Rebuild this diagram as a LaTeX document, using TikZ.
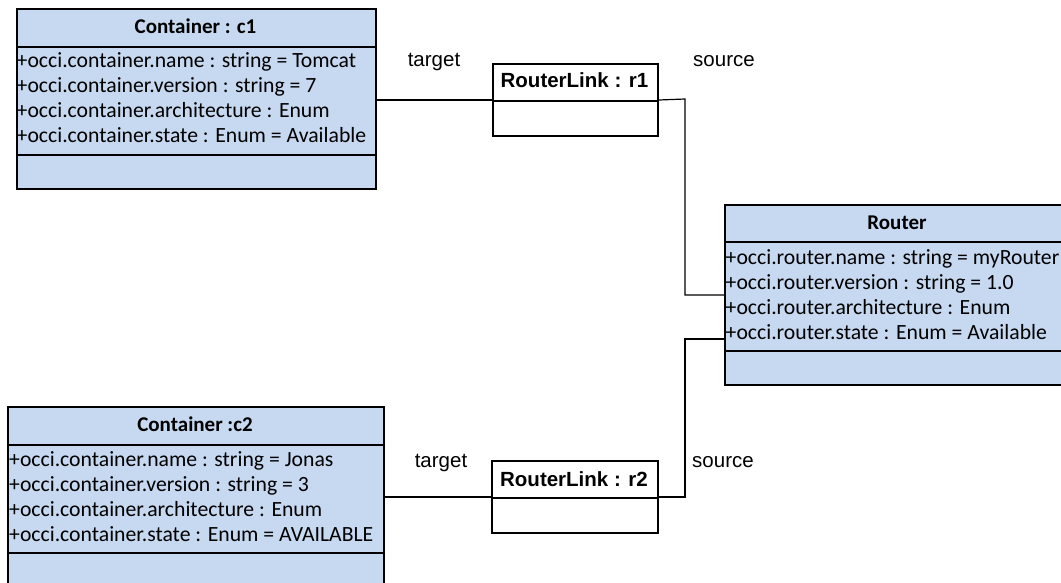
\documentclass[tikz,border=0pt]{standalone}
\usepackage{fontspec}
\newfontfamily\calfont{Carlito}
\newfontfamily\arialfont{Liberation Sans}
\definecolor{classblue}{RGB}{198,217,241}
\tikzset{
  classbox/.style={draw=black, line width=2pt, fill=classblue, rectangle, anchor=north west, inner sep=0pt},
  linkbox/.style={draw=black, line width=2pt, fill=white, rectangle, anchor=north west, inner sep=0pt},
  sepline/.style={draw=black, line width=2pt},
  classtitle/.style={anchor=base, inner sep=0pt, font=\calfont\bfseries\fontsize{21}{25}\selectfont},
  attr/.style={anchor=base west, inner sep=0pt, font=\calfont\fontsize{21.7}{25}\selectfont},
  linktitle/.style={anchor=base, inner sep=0pt, font=\arialfont\bfseries\fontsize{20.5}{24}\selectfont},
  rolelabel/.style={anchor=base, inner sep=0pt, font=\arialfont\fontsize{20.5}{24}\selectfont},
  link/.style={draw=black, line width=1.2pt}
}
\begin{document}
\begin{tikzpicture}[x=1pt,y=-1pt]
\useasboundingbox (0,0) rectangle (1061,583);
\clip (0,0) rectangle (1061,583);

% Container c1
\node[classbox, minimum width=359pt, minimum height=180pt] (c1) at (16,8) {};
\draw[sepline] ([yshift=-39pt]c1.north west) -- ([yshift=-39pt]c1.north east);
\draw[sepline] ([yshift=-147pt]c1.north west) -- ([yshift=-147pt]c1.north east);
\node[classtitle] (c1t) at (195.5,33.5) {Container : c1};
\node[attr] (c1a1) at (16.5,68) {+occi.container.name : string = Tomcat};
\node[attr] (c1a2) at (16.5,93) {+occi.container.version : string = 7};
\node[attr] (c1a3) at (16.5,118) {+occi.container.architecture : Enum};
\node[attr] (c1a4) at (16.5,143) {+occi.container.state : Enum = Available};

% Container c2
\node[classbox, minimum width=376pt, minimum height=184pt] (c2) at (7,406) {};
\draw[sepline] ([yshift=-39pt]c2.north west) -- ([yshift=-39pt]c2.north east);
\draw[sepline] ([yshift=-147pt]c2.north west) -- ([yshift=-147pt]c2.north east);
\node[classtitle] (c2t) at (195,431.5) {Container :c2};
\node[attr] (c2a1) at (9,466) {+occi.container.name : string = Jonas};
\node[attr] (c2a2) at (9,491) {+occi.container.version : string = 3};
\node[attr] (c2a3) at (9,516) {+occi.container.architecture : Enum};
\node[attr] (c2a4) at (9,541) {+occi.container.state : Enum = AVAILABLE};

% Router
\node[classbox, minimum width=346pt, minimum height=180pt] (rt) at (724,204) {};
\draw[sepline] ([yshift=-38pt]rt.north west) -- ([yshift=-38pt]rt.north east);
\draw[sepline] ([yshift=-147pt]rt.north west) -- ([yshift=-147pt]rt.north east);
\node[classtitle] (rtt) at (897,229.5) {Router};
\node[attr] (rta1) at (725.5,264) {+occi.router.name : string = myRouter};
\node[attr] (rta2) at (725.5,289) {+occi.router.version : string = 1.0};
\node[attr] (rta3) at (725.5,314) {+occi.router.architecture : Enum};
\node[attr] (rta4) at (725.5,339) {+occi.router.state : Enum = Available};

% RouterLink r1
\node[linkbox, minimum width=165pt, minimum height=72pt] (r1) at (492,63) {};
\draw[sepline] ([yshift=-38pt]r1.north west) -- ([yshift=-38pt]r1.north east);
\node[linktitle] (r1t) at (574.5,88) {RouterLink : r1};

% RouterLink r2
\node[linkbox, minimum width=166pt, minimum height=72pt] (r2) at (491,460) {};
\draw[sepline] ([yshift=-38pt]r2.north west) -- ([yshift=-38pt]r2.north east);
\node[linktitle] (r2t) at (574,486) {RouterLink : r2};

% role labels
\node[rolelabel] (r1tg) at (434,67) {target};
\node[rolelabel] (r1sc) at (724,67) {source};
\node[rolelabel] (r2tg) at (441,467) {target};
\node[rolelabel] (r2sc) at (723,467) {source};

% connectors
\coordinate (j1) at (685,99);
\coordinate (j2) at (685,339);
\draw[link] (c1.east |- r1.west) -- (r1.west);
\draw[link] (r1.east) -- (j1) |- (rt.west);
\draw[link] (rt.west |- j2) -- (j2) |- (r2.east);
\draw[link] (c2.east |- r2.west) -- (r2.west);
\end{tikzpicture}
\end{document}
